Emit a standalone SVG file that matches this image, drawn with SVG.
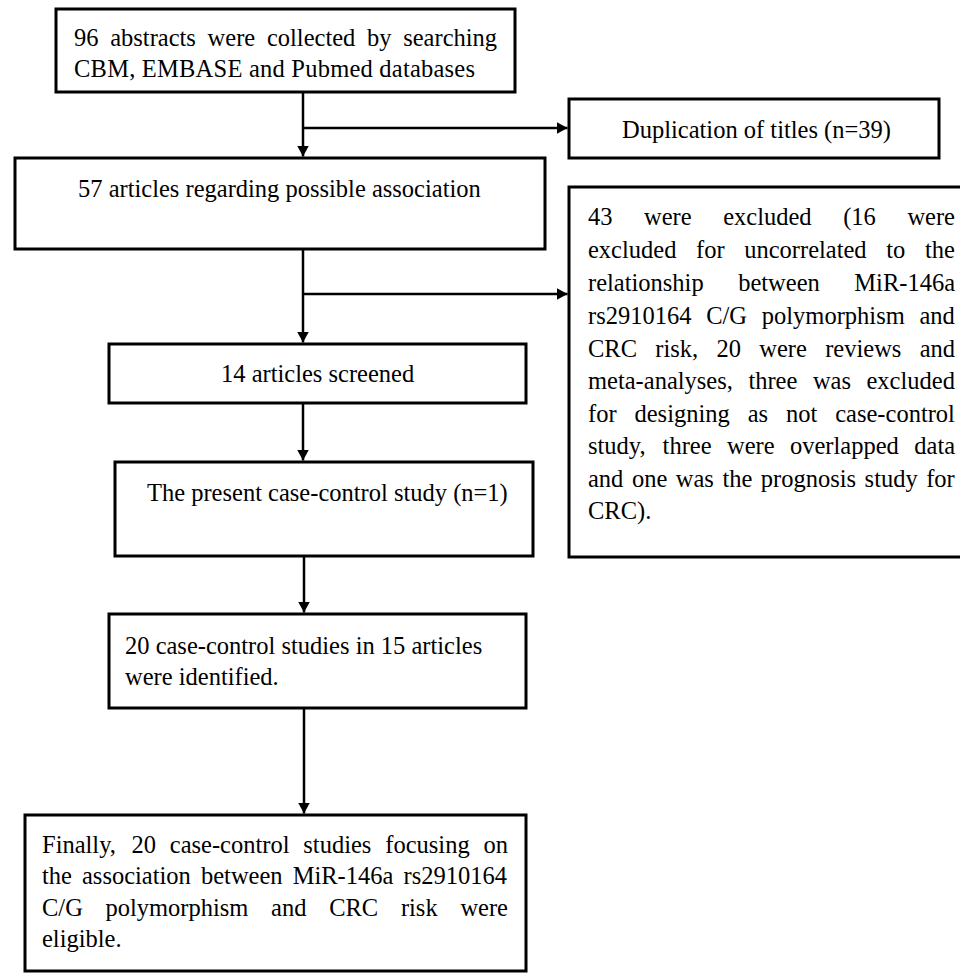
<svg xmlns="http://www.w3.org/2000/svg" width="960" height="973" viewBox="0 0 960 973">
<style>
.box{fill:#fff;stroke:#000;stroke-width:3}
.t{font-family:"Liberation Serif","Times New Roman",Times,serif;font-size:24.5px;fill:#000}
.c{stroke:#000;stroke-width:2.5;fill:none}
</style>
<defs>
<marker id="ah" markerWidth="11" markerHeight="12" refX="11" refY="6" orient="auto" markerUnits="userSpaceOnUse"><path d="M0,0 L11,6 L0,12 z" fill="#000"/></marker>
</defs>
<rect width="960" height="973" fill="#fff"/>
<g id="connectors">
<line class="c" x1="303" y1="92" x2="303" y2="156.5" marker-end="url(#ah)"/>
<line class="c" x1="303" y1="128" x2="567.5" y2="128" marker-end="url(#ah)"/>
<line class="c" x1="303" y1="249" x2="303" y2="342.5" marker-end="url(#ah)"/>
<line class="c" x1="303" y1="294" x2="567.5" y2="294" marker-end="url(#ah)"/>
<line class="c" x1="303" y1="403" x2="303" y2="460.5" marker-end="url(#ah)"/>
<line class="c" x1="304" y1="556" x2="304" y2="612.5" marker-end="url(#ah)"/>
<line class="c" x1="304" y1="708" x2="304" y2="813.5" marker-end="url(#ah)"/>
</g>
<g id="n1">
<rect class="box" x="56" y="9" width="459" height="83"/>
<text class="t" y="46"><tspan x="74">96</tspan><tspan x="110.2">abstracts</tspan><tspan x="207.6">were</tspan><tspan x="266.9">collected</tspan><tspan x="367">by</tspan><tspan x="403.2">searching</tspan></text>
<text class="t" x="74" y="77" textLength="401" lengthAdjust="spacing">CBM, EMBASE and Pubmed databases</text>
</g>
<g id="n2">
<rect class="box" x="569" y="99" width="370" height="59"/>
<text class="t" x="622" y="138">Duplication of titles (n=39)</text>
</g>
<g id="n3">
<rect class="box" x="15" y="158" width="530" height="91"/>
<text class="t" x="78" y="197">57 articles regarding possible association</text>
</g>
<g id="n4">
<rect class="box" x="569" y="187" width="400" height="370"/>
<text class="t" y="225"><tspan x="588">43</tspan><tspan x="644">were</tspan><tspan x="723.2">excluded</tspan><tspan x="843.2">(16</tspan><tspan x="907.4">were</tspan></text>
<text class="t" y="258"><tspan x="588">excluded</tspan><tspan x="696">for</tspan><tspan x="744.2">uncorrelated</tspan><tspan x="886.3">to</tspan><tspan x="924.9">the</tspan></text>
<text class="t" y="291"><tspan x="588">relationship</tspan><tspan x="738.2">between</tspan><tspan x="854.3">MiR-146a</tspan></text>
<text class="t" y="324"><tspan x="588">rs2910164</tspan><tspan x="706.2">C/G</tspan><tspan x="761.8">polymorphism</tspan><tspan x="919.5">and</tspan></text>
<text class="t" y="357"><tspan x="588">CRC</tspan><tspan x="655.3">risk,</tspan><tspan x="716.5">20</tspan><tspan x="759.3">were</tspan><tspan x="825.2">reviews</tspan><tspan x="919.7">and</tspan></text>
<text class="t" y="389"><tspan x="588">meta-analyses,</tspan><tspan x="748.4">three</tspan><tspan x="812.9">was</tspan><tspan x="866.5">excluded</tspan></text>
<text class="t" y="422"><tspan x="588">for</tspan><tspan x="634.5">designing</tspan><tspan x="747.7">as</tspan><tspan x="786">not</tspan><tspan x="835.2">case-control</tspan></text>
<text class="t" y="454"><tspan x="588">study,</tspan><tspan x="662.6">three</tspan><tspan x="727">were</tspan><tspan x="790">overlapped</tspan><tspan x="914.3">data</tspan></text>
<text class="t" y="487"><tspan x="588">and</tspan><tspan x="632">one</tspan><tspan x="675.8">was</tspan><tspan x="722.4">the</tspan><tspan x="760.8">prognosis</tspan><tspan x="864.6">study</tspan><tspan x="926.2">for</tspan></text>
<text class="t" x="588" y="519">CRC).</text>
</g>
<g id="n5">
<rect class="box" x="109" y="344" width="417" height="59"/>
<text class="t" x="221" y="382">14 articles screened</text>
</g>
<g id="n6">
<rect class="box" x="115" y="462" width="418" height="94"/>
<text class="t" x="147" y="501">The present case-control study (n=1)</text>
</g>
<g id="n7">
<rect class="box" x="109" y="614" width="417" height="94"/>
<text class="t" x="125" y="654">20 case-control studies in 15 articles</text>
<text class="t" x="125" y="685">were identified.</text>
</g>
<g id="n8">
<rect class="box" x="25" y="815" width="501" height="156"/>
<text class="t" y="853"><tspan x="42">Finally,</tspan><tspan x="131.4">20</tspan><tspan x="169.8">case-control</tspan><tspan x="303.3">studies</tspan><tspan x="385.3">focusing</tspan><tspan x="483.5">on</tspan></text>
<text class="t" y="884"><tspan x="42">the</tspan><tspan x="82">association</tspan><tspan x="201">between</tspan><tspan x="292.7">MiR-146a</tspan><tspan x="403.5">rs2910164</tspan></text>
<text class="t" y="916"><tspan x="42">C/G</tspan><tspan x="105.5">polymorphism</tspan><tspan x="271.1">and</tspan><tspan x="329.2">CRC</tspan><tspan x="400.9">risk</tspan><tspan x="460.4">were</tspan></text>
<text class="t" x="42" y="947">eligible.</text>
</g>
</svg>
